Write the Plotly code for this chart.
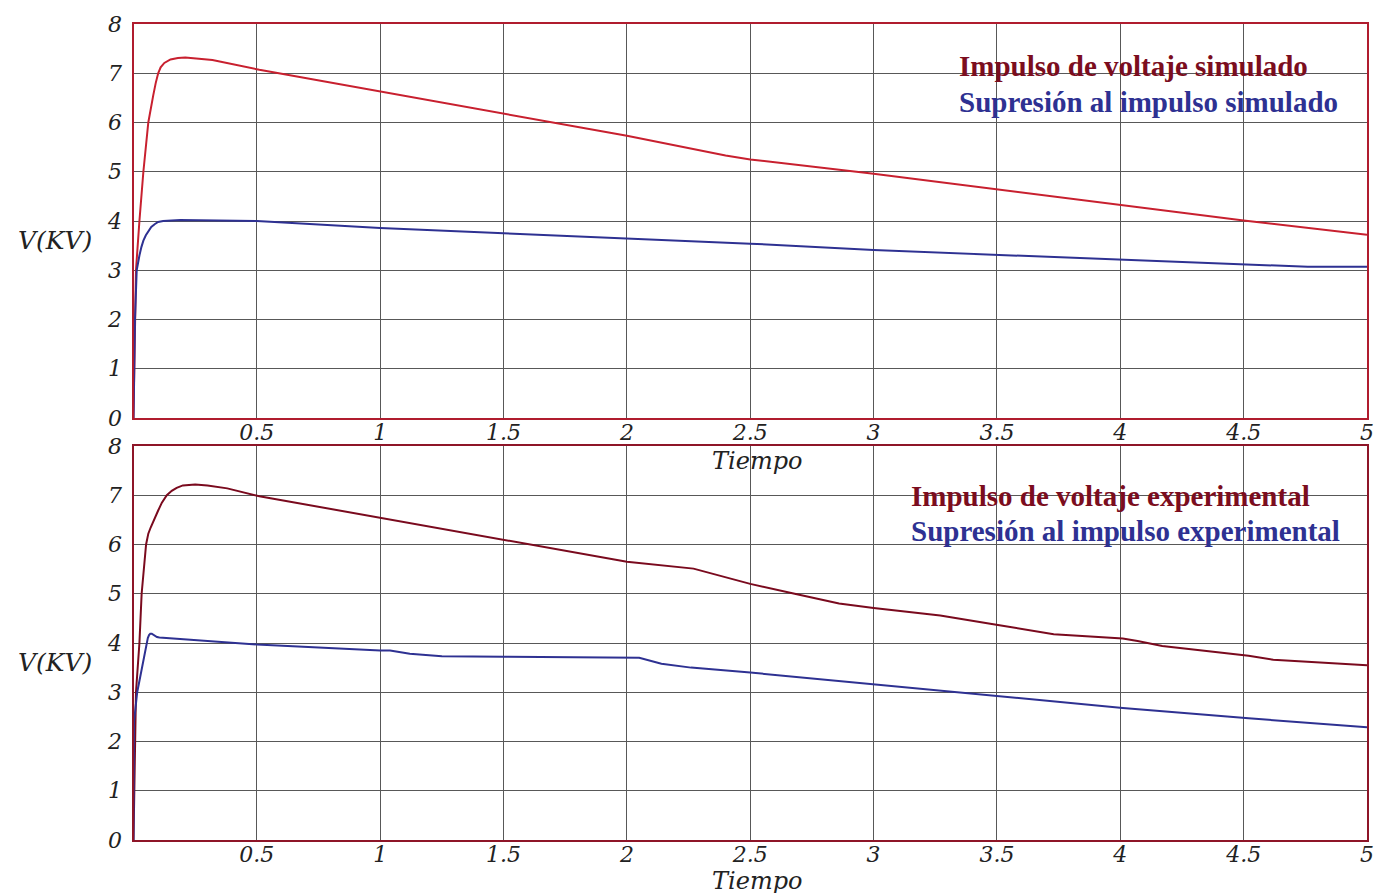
import plotly.graph_objects as go

# ---- data ----
# Top panel (simulated)
t_sim_v = [0, 0.004, 0.01, 0.024, 0.04, 0.06, 0.07, 0.08, 0.09, 0.1, 0.11, 0.125, 0.15,
           0.18, 0.21, 0.26, 0.32, 0.51,
           1.0, 1.5, 2.0, 2.4, 2.5, 3.0, 3.5, 4.0, 4.5, 5.0]
v_sim_v = [0, 1.2, 3.0, 4.0, 5.0, 6.0, 6.3, 6.55, 6.8, 7.0, 7.12, 7.21, 7.28,
           7.31, 7.32, 7.3, 7.27, 7.07,
           6.63, 6.18, 5.73, 5.33, 5.25, 4.96, 4.64, 4.32, 4.01, 3.72]

t_sim_s = [0, 0.006, 0.013, 0.018, 0.024, 0.032, 0.04, 0.05, 0.06, 0.072, 0.087, 0.1,
           0.12, 0.19, 0.5,
           1.0, 1.5, 2.0, 2.5, 3.0, 3.5, 4.0, 4.5, 4.76, 5.0]
v_sim_s = [0, 2.0, 3.0, 3.16, 3.3, 3.47, 3.6, 3.71, 3.8, 3.88, 3.94, 3.98,
           4.0, 4.02, 4.0,
           3.86, 3.75, 3.64, 3.54, 3.41, 3.31, 3.22, 3.12, 3.07, 3.07]

# Bottom panel (experimental)
t_exp_v = [0, 0.0075, 0.01, 0.024, 0.033, 0.051, 0.06, 0.07, 0.085, 0.1, 0.115, 0.135,
           0.155, 0.175, 0.2, 0.25, 0.3, 0.38, 0.51,
           1.0, 1.5, 2.0, 2.27, 2.5, 2.68, 2.86, 3.0, 3.27, 3.51, 3.73, 4.01, 4.07, 4.17,
           4.52, 4.62, 5.0]
v_exp_v = [0, 2.0, 3.0, 4.0, 5.0, 6.0, 6.22, 6.35, 6.53, 6.69, 6.85, 7.0,
           7.09, 7.15, 7.2, 7.22, 7.2, 7.14, 6.98,
           6.54, 6.1, 5.65, 5.51, 5.20, 5.0, 4.80, 4.71, 4.56, 4.36, 4.18, 4.09, 4.04, 3.94,
           3.74, 3.66, 3.55]

t_exp_s = [0, 0.002, 0.015, 0.035, 0.053, 0.058, 0.063, 0.068, 0.074, 0.08, 0.088, 0.095,
           0.105, 0.5,
           1.0, 1.04, 1.12, 1.25, 1.5, 2.0, 2.05, 2.14, 2.26, 2.5, 3.0, 3.51, 4.01, 4.52, 5.0]
v_exp_s = [0, 2.4, 3.0, 3.5, 4.0, 4.1, 4.16, 4.19, 4.19, 4.17, 4.14, 4.12,
           4.11, 3.97,
           3.85, 3.85, 3.78, 3.73, 3.72, 3.70, 3.70, 3.58, 3.50, 3.40, 3.16, 2.92, 2.68, 2.47, 2.29]

x_ticks = [0.5, 1, 1.5, 2, 2.5, 3, 3.5, 4, 4.5, 5]
x_ticktext = ["0.5", "1", "1.5", "2", "2.5", "3", "3.5", "4", "4.5", "5"]
y_ticks = [0, 1, 2, 3, 4, 5, 6, 7, 8]

legend_top = ["Impulso de voltaje simulado", "Supresión al impulso simulado"]
legend_bot = ["Impulso de voltaje experimental", "Supresión al impulso experimental"]
x_title = "Tiempo"
y_title = "V(KV)"

# ---- styling ----
W, H = 1386, 893
RED = "#c8202f"
MAROON = "#7a0a1e"
BLUE = "#2e3192"
LEG_RED = "#7b0d1e"
FRAME_TOP = "#b01c2e"
FRAME_BOT = "#8e1528"
GRID = "#585858"
TICKFONT = dict(family="DejaVu Serif", size=22, color="#222222", style="italic")

def px_x(p):
    return p / W

def px_y(p):
    return 1 - p / H

xdom = [px_x(133.5), px_x(1367)]
ydom_top = [px_y(418), px_y(24)]
ydom_bot = [px_y(840), px_y(446)]

fig = go.Figure()
fig.add_trace(go.Scatter(x=t_sim_v, y=v_sim_v, mode="lines", line=dict(color=RED, width=2),
                         xaxis="x", yaxis="y", showlegend=False))
fig.add_trace(go.Scatter(x=t_sim_s, y=v_sim_s, mode="lines", line=dict(color=BLUE, width=2),
                         xaxis="x", yaxis="y", showlegend=False))
fig.add_trace(go.Scatter(x=t_exp_v, y=v_exp_v, mode="lines", line=dict(color=MAROON, width=2),
                         xaxis="x2", yaxis="y2", showlegend=False))
fig.add_trace(go.Scatter(x=t_exp_s, y=v_exp_s, mode="lines", line=dict(color=BLUE, width=2),
                         xaxis="x2", yaxis="y2", showlegend=False))

def xaxis(anchor, frame):
    return dict(domain=xdom, anchor=anchor, range=[0, 5], tickmode="array",
                tickvals=x_ticks, ticktext=x_ticktext, ticks="", ticklen=0, showgrid=True,
                gridcolor=GRID, gridwidth=1.3, zeroline=False, showline=True,
                linecolor=frame, linewidth=2, mirror=True, tickfont=TICKFONT,
                ticklabelstandoff=-6, automargin=False)

def yaxis(anchor, dom, frame):
    return dict(domain=dom, anchor=anchor, range=[0, 8], tickmode="array",
                tickvals=y_ticks, ticktext=[str(v) for v in y_ticks], ticks="", ticklen=0,
                showgrid=True, gridcolor=GRID, gridwidth=1.3, zeroline=False,
                showline=True, linecolor=frame, linewidth=2, mirror=True,
                tickfont=TICKFONT, ticklabelstandoff=5, automargin=False)

annotations = []
LEGFONT = "Liberation Serif"
for txt, color, ypx in [(legend_top[0], LEG_RED, 66), (legend_top[1], BLUE, 102)]:
    annotations.append(dict(text=txt, xref="paper", yref="paper", x=px_x(957), y=px_y(ypx),
                            xanchor="left", yanchor="middle", showarrow=False,
                            font=dict(family=LEGFONT, size=29, color=color, weight=700)))
for txt, color, ypx in [(legend_bot[0], LEG_RED, 496), (legend_bot[1], BLUE, 531)]:
    annotations.append(dict(text=txt, xref="paper", yref="paper", x=px_x(909), y=px_y(ypx),
                            xanchor="left", yanchor="middle", showarrow=False,
                            font=dict(family=LEGFONT, size=29, color=color, weight=700)))

TITLEFONT = dict(family="DejaVu Serif", size=25, color="#222222", style="italic")
XTITLEFONT = dict(family="DejaVu Serif", size=24, color="#222222", style="italic")
for ypx in [240, 662]:
    annotations.append(dict(text=y_title, xref="paper", yref="paper", x=px_x(55), y=px_y(ypx),
                            xanchor="center", yanchor="middle", showarrow=False, font=TITLEFONT))
for ypx in [461, 881]:
    annotations.append(dict(text=x_title, xref="paper", yref="paper", x=px_x(757), y=px_y(ypx),
                            xanchor="center", yanchor="middle", showarrow=False, font=XTITLEFONT))

fig.update_layout(
    width=W, height=H,
    margin=dict(l=0, r=0, t=0, b=0, autoexpand=False),
    paper_bgcolor="white", plot_bgcolor="white",
    xaxis=xaxis("y", FRAME_TOP),
    yaxis=yaxis("x", ydom_top, FRAME_TOP),
    xaxis2=xaxis("y2", FRAME_BOT),
    yaxis2=yaxis("x2", ydom_bot, FRAME_BOT),
    annotations=annotations,
    showlegend=False,
)

fig.write_html("out.html", config={"displayModeBar": False},
               post_script="document.body.style.margin='0';document.body.style.overflow='hidden';")
